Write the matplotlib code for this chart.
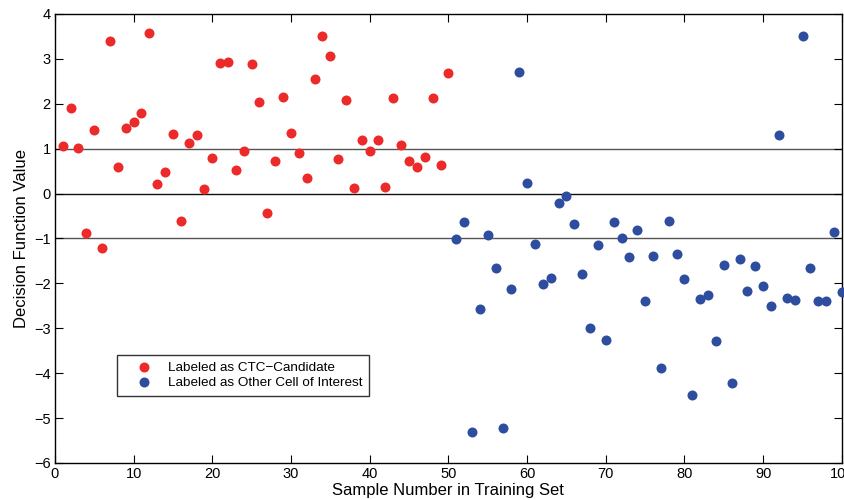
import matplotlib
matplotlib.use("Agg")
import matplotlib.pyplot as plt

plt.rcParams['font.family'] = ['Liberation Sans', 'DejaVu Sans']

red_x = list(range(1, 51))
red_y = [1.05, 1.9, 1.02, -0.87, 1.42, -1.22, 3.4, 0.6, 1.47, 1.6,
         1.8, 3.58, 0.21, 0.48, 1.32, -0.6, 1.13, 1.3, 0.1, 0.8,
         2.9, 2.92, 0.52, 0.95, 2.88, 2.03, -0.44, 0.72, 2.16, 1.35,
         0.9, 0.35, 2.55, 3.52, 3.06, 0.77, 2.09, 0.12, 1.2, 0.95,
         1.2, 0.14, 2.12, 1.09, 0.72, 0.6, 0.82, 2.14, 0.64, 2.68]

blue_x = list(range(51, 101))
blue_y = [-1.02, -0.64, -5.3, -2.56, -0.93, -1.65, -5.21, -2.13, 2.7, 0.23,
          -1.12, -2.02, -1.88, -0.21, -0.06, -0.67, -1.8, -3.0, -1.14, -3.26,
          -0.64, -0.98, -1.41, -0.81, -2.39, -1.4, -3.88, -0.6, -1.34, -1.9,
          -4.49, -2.35, -2.26, -3.28, -1.58, -4.22, -1.45, -2.17, -1.61, -2.05,
          -2.5, 1.3, -2.32, -2.37, 3.52, -1.65, -2.39, -2.39, -0.85, -2.2]

ref_lines = [1, 0, -1]
ref_colors = ['#555555', '#111111', '#555555']

x_ticks = list(range(0, 101, 10))
y_ticks = list(range(-6, 5))

fig = plt.figure(figsize=(8.44, 5.0), dpi=100)
ax = fig.add_axes([0.065, 0.074, 0.9325, 0.898])

for yv, c in zip(ref_lines, ref_colors):
    ax.axhline(yv, color=c, lw=1.0, zorder=1)

ax.plot(red_x, red_y, 'o', color='#ec2a2a', markersize=7.2, markeredgewidth=0,
        label='Labeled as CTC\u2212Candidate', zorder=3, clip_on=False)
ax.plot(blue_x, blue_y, 'o', color='#2e4d9e', markersize=7.2, markeredgewidth=0,
        label='Labeled as Other Cell of Interest', zorder=3, clip_on=False)

ax.set_xlim(0, 100)
ax.set_ylim(-6, 4)
ax.set_xticks(x_ticks)
ax.set_yticks(y_ticks)
ax.tick_params(direction='in', top=True, right=True, length=6, width=0.8,
               labelsize=10.5, pad=3)
for s in ax.spines.values():
    s.set_linewidth(1.0)

ax.set_xlabel('Sample Number in Training Set', fontsize=12, labelpad=1)
ax.set_ylabel('Decision Function Value', fontsize=12, labelpad=4)

leg = ax.legend(loc='lower left', bbox_to_anchor=(0.079, 0.149), fontsize=9.7,
                frameon=True, fancybox=False, shadow=False, borderaxespad=0,
                handlelength=3.0, handletextpad=0.3, borderpad=0.5,
                labelspacing=0.2)
leg.get_frame().set_edgecolor('black')
leg.get_frame().set_linewidth(1.0)

fig.savefig('out.png', dpi=100)
